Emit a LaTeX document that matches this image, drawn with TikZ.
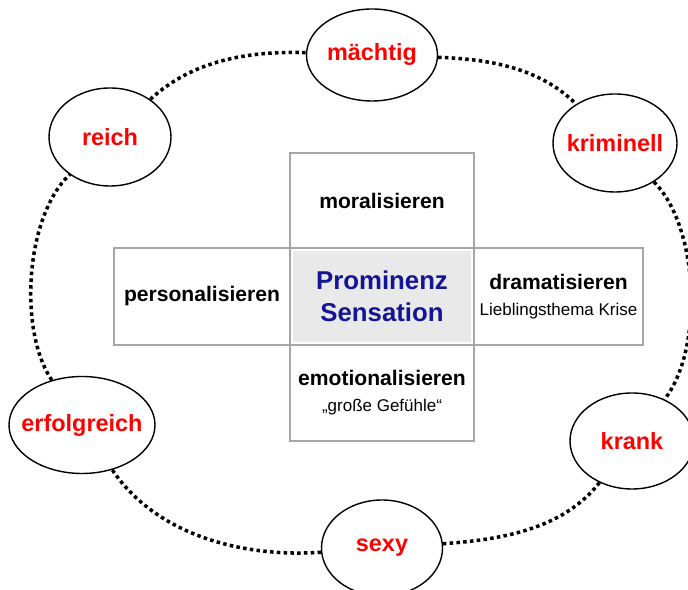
\documentclass[tikz,border=0pt]{standalone}
\usepackage{fontspec}
\setmainfont{Liberation Sans}
\usetikzlibrary{positioning,shapes.geometric}
\definecolor{navy}{RGB}{20,20,150}

\begin{document}
\begin{tikzpicture}
	\tikzset{word/.style={ellipse,draw,line width=1.2pt,fill=white,inner sep=0pt,text=red,font=\fontsize{20}{24}\selectfont\bfseries}}
	\tikzset{cell/.style={rectangle,draw=gray!70,line width=0.9pt,inner sep=0pt,outer sep=0pt,minimum width=5.52cm,minimum height=2.91cm,align=center,font=\fontsize{18}{22}\selectfont\bfseries}}
	\tikzset{ring/.style={line width=3pt,dash pattern=on 3pt off 2.8pt}}
	\useasboundingbox (0,0) rectangle (20.64,17.7);

	% cross
	\node[cell,fill=gray!17,draw=white,line width=5pt,text=navy,font=\fontsize{22}{27}\selectfont\bfseries] (mid) at (11.46,8.805) {Prominenz\\Sensation};
	\node[cell,minimum height=2.85cm,above=0pt of mid] (top) {moralisieren};
	\node[cell,minimum height=2.88cm,below=0pt of mid] (bottom) {emotionalisieren\\{\fontsize{14.5}{18}\selectfont\mdseries „große Gefühle“}};
	\node[cell,minimum width=5.28cm,left=0pt of mid] (left) {personalisieren};
	\node[cell,minimum width=5.07cm,right=0pt of mid] (right) {dramatisieren\\{\fontsize{14.5}{18}\selectfont\mdseries Lieblingsthema Krise}};

	% ring words
	\node[word,minimum width=3.93cm,minimum height=2.76cm] (maechtig) at (11.16,16.05) {\makebox[0pt]{mächtig}};
	\node[word,minimum width=3.72cm,minimum height=2.94cm] (kriminell) at (18.45,13.41) {\makebox[0pt]{kriminell}};
	\node[word,minimum width=3.72cm,minimum height=2.88cm] (krank) at (18.96,4.47) {\makebox[0pt]{krank}};
	\node[word,minimum width=3.63cm,minimum height=2.88cm] (sexy) at (11.46,1.26) {\makebox[0pt]{sexy}};
	\node[word,minimum width=4.38cm,minimum height=2.91cm] (erfolgreich) at (2.46,4.95) {\makebox[0pt]{erfolgreich}};
	\node[word,minimum width=3.66cm,minimum height=2.94cm] (reich) at (3.30,13.59) {\makebox[0pt]{reich}};

	% ring
	\draw[ring] (maechtig) to[out=-2,in=135,looseness=0.9] (kriminell);
	\draw[ring] (kriminell) to[out=-45,in=52,looseness=0.75] (krank);
	\draw[ring] (krank) to[out=232,in=4,looseness=0.9] (sexy);
	\draw[ring] (sexy) to[out=184,in=304,looseness=0.9] (erfolgreich);
	\draw[ring] (erfolgreich) to[out=124,in=223,looseness=0.75] (reich);
	\draw[ring] (reich) to[out=43,in=178,looseness=0.9] (maechtig);
\end{tikzpicture}
\end{document}
